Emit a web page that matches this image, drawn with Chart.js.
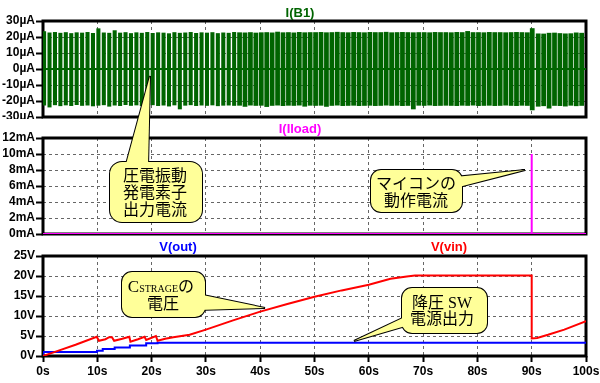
<!DOCTYPE html>
<html>
<head>
<meta charset="utf-8">
<script src="https://cdn.jsdelivr.net/npm/chart.js@4/dist/chart.umd.min.js"></script>
<style>
  body { margin: 0; background: #fff; }
  #wrap { position: relative; width: 600px; height: 383px; overflow: hidden; }
  #wrap canvas { position: absolute; left: 0; }
  .pane-title { position: absolute; font: bold 13px "Liberation Sans", Arial, sans-serif; line-height: 1; transform: translateX(-50%); white-space: nowrap; }
  #notes { position: absolute; left: 0; top: 0; pointer-events: none; }
  #notes .edge { fill: #ffff99; stroke: #000; stroke-width: 2; }
  #notes .fill { fill: #ffff99; stroke: none; }
  #notes text { font-family: "Noto Sans CJK JP", sans-serif; font-size: 16px; fill: #000; text-anchor: middle; }
  #notes .latin { font-family: "Liberation Serif", serif; }
</style>
</head>
<body>
<div id="wrap">
  <canvas id="cvB1" style="top:0" width="600" height="119"></canvas>
  <canvas id="cvLoad" style="top:119px" width="600" height="119"></canvas>
  <canvas id="cvVolt" style="top:238px" width="600" height="145"></canvas>

  <div class="pane-title" style="left:300px;top:6px;color:#006400">I(B1)</div>
  <div class="pane-title" style="left:300px;top:122px;color:#ff00ff">I(Iload)</div>
  <div class="pane-title" style="left:178px;top:240px;color:#0000ff">V(out)</div>
  <div class="pane-title" style="left:449px;top:240px;color:#ff0000">V(vin)</div>

  <svg id="notes" width="600" height="383">
    <g>
      <path class="edge" d="M125,168 L148,168 L150,76 Z"/>
      <rect class="edge" x="110" y="162" width="92" height="60" rx="12"/>
      <path class="fill" d="M125,168 L148,168 L150,76 Z"/>
      <rect class="fill" x="110" y="162" width="92" height="60" rx="12"/>
      <text x="155" y="181">圧電振動</text>
      <text x="155" y="198">発電素子</text>
      <text x="155" y="215">出力電流</text>
    </g>
    <g>
      <path class="edge" d="M455,177 L455,188 L525,170 Z"/>
      <rect class="edge" x="371" y="170" width="91" height="42" rx="10"/>
      <path class="fill" d="M455,177 L455,188 L525,170 Z"/>
      <rect class="fill" x="371" y="170" width="91" height="42" rx="10"/>
      <text x="416" y="189">マイコンの</text>
      <text x="416" y="206">動作電流</text>
    </g>
    <g>
      <path class="edge" d="M198,294 L198,310 L265,308 Z"/>
      <rect class="edge" x="122" y="272" width="83" height="45" rx="10"/>
      <path class="fill" d="M198,294 L198,310 L265,308 Z"/>
      <rect class="fill" x="122" y="272" width="83" height="45" rx="10"/>
      <text x="161" y="292"><tspan class="latin" font-size="17">C</tspan><tspan class="latin" font-size="10">STRAGE</tspan><tspan>の</tspan></text>
      <text x="163" y="309">電圧</text>
    </g>
    <g>
      <path class="edge" d="M409,315 L409,325 L354,341 Z"/>
      <rect class="edge" x="402" y="288" width="85" height="45" rx="10"/>
      <path class="fill" d="M409,315 L409,325 L354,341 Z"/>
      <rect class="fill" x="402" y="288" width="85" height="45" rx="10"/>
      <text x="442" y="308">降圧<tspan class="latin"> SW</tspan></text>
      <text x="442" y="324">電源出力</text>
    </g>
  </svg>
</div>

<script>
// I(B1): one bar per oscillation burst, peak high / low in uA
const ibTime = [0.2, 1.2, 2.2, 3.2, 4.2, 5.2, 6.2, 7.2, 8.2, 9.2,
    10.2, 11.2, 12.2, 13.2, 14.2, 15.2, 16.2, 17.2, 18.2, 19.2,
    20.2, 21.2, 22.2, 23.2, 24.2, 25.2, 26.2, 27.2, 28.2, 29.2,
    30.2, 31.2, 32.2, 33.2, 34.2, 35.2, 36.2, 37.2, 38.2, 39.2,
    40.2, 41.2, 42.2, 43.2, 44.2, 45.2, 46.2, 47.2, 48.2, 49.2,
    50.2, 51.2, 52.2, 53.2, 54.2, 55.2, 56.2, 57.2, 58.2, 59.2,
    60.2, 61.2, 62.2, 63.2, 64.2, 65.2, 66.2, 67.2, 68.2, 69.2,
    70.2, 71.2, 72.2, 73.2, 74.2, 75.2, 76.2, 77.2, 78.2, 79.2,
    80.2, 81.2, 82.2, 83.2, 84.2, 85.2, 86.2, 87.2, 88.2, 89.2,
    90.1, 91.2, 92.2, 93.2, 94.2, 95.2, 96.2, 97.2, 98.2, 99.2];
const ibHigh = [23.4, 22.6, 22.9, 22.4, 22.8, 22.2, 22.7, 22.5, 22.9, 22.3,
    25.2, 22.6, 22.4, 24.0, 22.5, 22.8, 22.2, 22.7, 22.4, 22.9,
    22.3, 22.7, 22.5, 22.1, 22.8, 22.4, 22.6, 22.9, 22.3, 22.7,
    22.5, 22.8, 22.2, 22.6, 22.4, 22.9, 22.7, 22.6, 22.8, 22.5,
    22.7, 22.8, 22.6, 23.1, 22.7, 22.8, 22.6, 22.9, 22.7, 22.8,
    22.8, 22.9, 22.7, 22.8, 23.0, 22.8, 22.7, 22.9, 22.8, 22.7,
    22.9, 22.8, 22.8, 23.0, 22.7, 22.8, 22.9, 22.8, 22.7, 22.8,
    22.8, 22.7, 22.9, 22.8, 22.8, 22.7, 22.9, 22.8, 23.5, 22.8,
    22.8, 22.7, 22.9, 22.8, 22.8, 22.7, 22.8, 22.9, 22.8, 22.7,
    25.3, 22.0, 21.9, 22.4, 22.5, 22.2, 22.0, 22.1, 22.6, 22.4];
const ibLow = [-22.6, -23.8, -22.4, -23.0, -22.5, -22.9, -22.3, -22.8, -22.6, -23.1,
    -22.7, -22.4, -23.3, -22.6, -22.9, -22.3, -22.8, -22.5, -23.0, -22.7,
    -22.4, -22.9, -22.6, -23.2, -22.5, -25.0, -22.7, -22.4, -22.9, -22.6,
    -22.8, -22.5, -23.0, -22.7, -22.6, -22.8, -22.7, -23.4, -22.6, -22.8,
    -22.7, -23.5, -22.8, -22.6, -22.9, -22.7, -22.8, -22.6, -23.3, -22.7,
    -22.8, -22.7, -23.4, -22.8, -22.6, -22.9, -22.8, -22.7, -22.9, -22.8,
    -22.7, -22.9, -22.8, -22.6, -22.8, -22.7, -22.9, -22.8, -25.0, -22.7,
    -22.8, -22.6, -22.9, -22.8, -22.7, -22.8, -22.9, -22.7, -22.8, -22.6,
    -22.9, -22.8, -22.7, -22.9, -22.8, -22.6, -22.8, -22.9, -22.7, -22.8,
    -25.6, -23.3, -23.0, -24.5, -22.8, -22.9, -23.2, -22.7, -23.0, -22.8];
const ibBaseTime = [0, 100];
const ibBaseVal = [0, 0];

// I(Iload) in mA
const iloadTime = [0, 90, 90, 90, 100];
const iloadVal = [0, 0, 10, 0, 0];

// V(vin) in V
const vinTime = [0, 3, 6, 9.9, 10.3, 11.5, 12.2, 12.7, 13.1, 14.6, 15.9, 16.1, 17.5, 18.7, 19.0,
    20.8, 21.1, 22.5, 24, 27, 30, 35, 40, 45, 50, 55, 60, 64, 67, 68.5, 90, 90, 91, 93, 96, 100];
const vinVal = [0, 1.4, 2.8, 4.8, 3.8, 4.2, 4.7, 4.7, 3.8, 4.3, 4.8, 3.6, 4.2, 4.8, 4.0,
    5.0, 3.8, 4.3, 4.7, 5.3, 6.6, 8.9, 11.1, 13.0, 14.8, 16.4, 17.8, 19.3, 19.9, 20.1, 20.1, 4.4, 4.5, 5.3, 6.6, 8.7];

// V(out) in V (held between samples)
const voutTime = [0, 9.95, 11, 13.2, 16, 19, 21.1, 23, 100];
const voutVal = [0, 1.0, 1.3, 1.75, 2.1, 2.6, 3.2, 3.3, 3.3];

const xTicksStep = 10;

function points(xs, ys) {
    return xs.map(function (x, i) { return { x: x, y: ys[i] }; });
}

const tickFont = { family: '"Liberation Sans", Arial, sans-serif', size: 12, weight: 'bold' };

// thick black box round each pane, under the traces
const framePlugin = {
    id: 'frame',
    beforeDatasetsDraw(chart) {
        const ctx = chart.ctx;
        const a = chart.chartArea;
        ctx.save();
        ctx.lineWidth = 3;
        ctx.strokeStyle = '#000';
        ctx.strokeRect(a.left, a.top, a.right - a.left, a.bottom - a.top);
        ctx.restore();
    }
};

function paneOptions(yMin, yMax, yStep, unit, showX, xHeight, padTop) {
    return {
        responsive: false,
        animation: false,
        devicePixelRatio: 1,
        layout: { padding: { top: padTop, right: 14, bottom: 0, left: 0 } },
        plugins: { legend: { display: false }, tooltip: { enabled: false } },
        scales: {
            x: {
                type: 'linear', min: 0, max: 100, offset: false,
                grid: { color: '#666', lineWidth: 1, offset: false, drawTicks: showX, tickLength: 6, tickColor: '#000', tickWidth: 2 },
                border: { display: false, dash: [3, 3] },
                ticks: {
                    display: showX, stepSize: xTicksStep, padding: 2, color: '#000', font: tickFont,
                    maxRotation: 0, autoSkip: false,
                    callback: function (v) { return v + 's'; }
                },
                afterFit: function (s) {
                    s.height = xHeight;
                    s.paddingLeft = 0;
                    s.paddingRight = 0;
                }
            },
            y: {
                min: yMin, max: yMax,
                grid: { color: '#666', lineWidth: 1, tickLength: 7, tickColor: '#000', tickWidth: 2 },
                border: { display: false, dash: [3, 3] },
                ticks: {
                    stepSize: yStep, padding: 1, color: '#000', font: tickFont, autoSkip: false,
                    callback: function (v) { return v + unit; }
                },
                afterFit: function (s) {
                    s.width = 43;
                    s.paddingTop = 0;
                    s.paddingBottom = 0;
                }
            }
        }
    };
}

// I(B1) pane
const b1Narrow = [];
const b1Wide = [];
ibTime.forEach(function (t, i) {
    (t < 36 ? b1Narrow : b1Wide).push({ x: t, y: [ibLow[i], ibHigh[i]] });
});

new Chart(document.getElementById('cvB1'), {
    type: 'bar',
    data: {
        datasets: [
            { type: 'line', data: points(ibBaseTime, ibBaseVal), borderColor: '#006400', borderWidth: 2, pointRadius: 0 },
            { data: b1Narrow, backgroundColor: '#006400', borderWidth: 0, barThickness: 3.4, grouped: false },
            { data: b1Wide, backgroundColor: '#006400', borderWidth: 0, barThickness: 4.1, grouped: false }
        ]
    },
    options: paneOptions(-30, 30, 10, 'µA', false, 2, 21),
    plugins: [framePlugin]
});

// I(Iload) pane
new Chart(document.getElementById('cvLoad'), {
    type: 'line',
    data: {
        datasets: [
            { data: points(iloadTime, iloadVal), borderColor: '#ff00ff', borderWidth: 2, pointRadius: 0 }
        ]
    },
    options: paneOptions(0, 12, 2, 'mA', false, 4, 19),
    plugins: [framePlugin]
});

// V(vin) / V(out) pane
new Chart(document.getElementById('cvVolt'), {
    type: 'line',
    data: {
        datasets: [
            { data: points(vinTime, vinVal), borderColor: '#ff0000', borderWidth: 2, pointRadius: 0 },
            { data: points(voutTime, voutVal), borderColor: '#0000ff', borderWidth: 2, pointRadius: 0, stepped: 'after' }
        ]
    },
    options: paneOptions(0, 25, 5, 'V', true, 27, 18),
    plugins: [framePlugin]
});
</script>
</body>
</html>
